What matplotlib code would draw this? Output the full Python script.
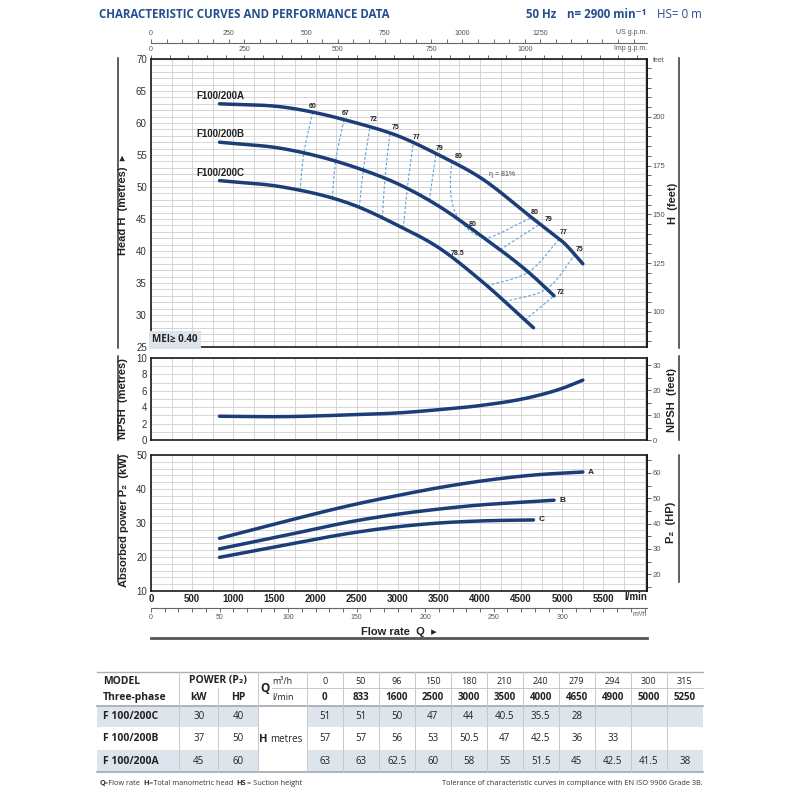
import matplotlib
matplotlib.use('Agg')
import matplotlib.pyplot as plt
import numpy as np
from matplotlib import font_manager
from matplotlib.patches import Rectangle
from matplotlib.ticker import MultipleLocator, FixedLocator

# ---------------- data ----------------
Q_M3H = [0, 50, 96, 150, 180, 210, 240, 279, 294, 300, 315]
Q_LMIN = [0, 833, 1600, 2500, 3000, 3500, 4000, 4650, 4900, 5000, 5250]
H_C = [51, 51, 50, 47, 44, 40.5, 35.5, 28]
H_B = [57, 57, 56, 53, 50.5, 47, 42.5, 36, 33]
H_A = [63, 63, 62.5, 60, 58, 55, 51.5, 45, 42.5, 41.5, 38]
MODELS = ['F 100/200C', 'F 100/200B', 'F 100/200A']
CURVE_NAMES = ['F100/200C', 'F100/200B', 'F100/200A']
POWER_KW = [30, 37, 45]
POWER_HP = [40, 50, 60]

NPSH_Q = [833, 1600, 2500, 3000, 3500, 4000, 4650, 5000, 5250]
NPSH_M = [2.9, 2.85, 3.1, 3.3, 3.7, 4.2, 5.3, 6.3, 7.3]

P_Q_A = [833, 1600, 2500, 3000, 3500, 4000, 4650, 5250]
P_A = [25.5, 30.3, 35.6, 38.1, 40.4, 42.3, 44.1, 45.0]
P_Q_B = [833, 1600, 2500, 3000, 3500, 4000, 4650, 4900]
P_B = [22.4, 26.2, 30.7, 32.6, 34.1, 35.3, 36.3, 36.7]
P_Q_C = [833, 1600, 2500, 3000, 3500, 4000, 4650]
P_C = [19.9, 23.4, 27.3, 28.9, 30.0, 30.6, 30.9]

# efficiency iso-lines: flow where each line meets curve A / B / C
ISO_LEFT = ['60', '67', '72', '75', '77', '79']
ISO_LEFT_QA = [1966, 2346, 2662, 2905, 3189, 3465]
ISO_LEFT_QB = [1860, 2245, 2581, 2845, 3116, 3383]
ISO_LEFT_QC = [1811, 2204, 2532, 2812, 3067, None]
ISO_RIGHT = ['79', '77', '75', '72']
ISO_RIGHT_QA = [4729, 4964, 5154, None]
ISO_RIGHT_QB = [4243, 4587, 4810, 4900]
ISO_RIGHT_QC = [None, 4088, 4303, 4547]
LOOP80_Q = [3657, 3640, 3655, 3700, 3780, 3870, 3970, 4090, 4230, 4430, 4628]
LOOP80_H = [None, 51.0, 48.0, 46.0, 44.4, 43.2, 42.4, 42.1, 42.7, 44.0, None]
ETA_MAX_Q = 4097
B80_Q = 3854
C785_Q = 3655

FT = 3.2808
HP_PER_KW = 1.341
IMP = 4.546
USG = 3.7854
M3H = 16.6667
XMAX = 6030

# ---------------- fonts / colours ----------------
names = {f.name for f in font_manager.fontManager.ttflist}
NARROW = 'Liberation Sans Narrow' if 'Liberation Sans Narrow' in names else 'Liberation Sans'
FN = [NARROW, 'DejaVu Sans']
FO = ['Open Sans', 'DejaVu Sans']
plt.rcParams['font.family'] = FN

NAVY = '#1b3d78'
TITLE = '#244f8e'
ISO = '#5aa2dc'
GRID = '#cfcfcf'
SHADE = '#dde4eb'
DARK = '#222222'


def spline(x, y, n=200):
    x = np.asarray(x, float)
    y = np.asarray(y, float)
    m = np.gradient(y, x)
    xs = np.linspace(x[0], x[-1], n)
    i = np.clip(np.searchsorted(x, xs, side='right') - 1, 0, len(x) - 2)
    h = x[i + 1] - x[i]
    t = (xs - x[i]) / h
    ys = ((2 * t**3 - 3 * t**2 + 1) * y[i] + (t**3 - 2 * t**2 + t) * h * m[i]
          + (-2 * t**3 + 3 * t**2) * y[i + 1] + (t**3 - t**2) * h * m[i + 1])
    return xs, ys


def path_spline(qs, hs, n=120):
    # smooth path through points, parametrised by on-screen chord length
    px = np.asarray(qs, float) * 0.0823
    py = np.asarray(hs, float) * 6.4
    d = np.r_[0, np.cumsum(np.hypot(np.diff(px), np.diff(py)))]
    _, q = spline(d, qs, n)
    _, h = spline(d, hs, n)
    return q, h


fig = plt.figure(figsize=(8, 8), dpi=100)
ax_f = fig.add_axes([0, 0, 1, 1])
ax_f.set_xlim(0, 800)
ax_f.set_ylim(800, 0)
ax_f.axis('off')

ax_h = fig.add_axes([151 / 800, 1 - 347 / 800, 496 / 800, 288 / 800])
ax_n = fig.add_axes([151 / 800, 1 - 440 / 800, 496 / 800, 82 / 800])
ax_p = fig.add_axes([151 / 800, 1 - 591 / 800, 496 / 800, 136 / 800])


def style(ax, ylim, ymaj, ymin):
    ax.set_xlim(0, XMAX)
    ax.set_ylim(*ylim)
    ax.xaxis.set_major_locator(MultipleLocator(500))
    ax.xaxis.set_minor_locator(MultipleLocator(250))
    ax.yaxis.set_major_locator(MultipleLocator(ymaj))
    ax.yaxis.set_minor_locator(MultipleLocator(ymin))
    ax.grid(True, which='both', color=GRID, lw=0.6)
    ax.set_axisbelow(True)
    ax.tick_params(which='both', length=0)
    ax.tick_params(axis='y', labelsize=7, labelcolor='#333333', pad=3)
    ax.tick_params(axis='x', labelbottom=False)
    for s in ax.spines.values():
        s.set_linewidth(1.2)
        s.set_color('#1a1a1a')


style(ax_h, (25, 70), 5, 1)
style(ax_n, (0, 10), 2, 1)
style(ax_p, (10, 50), 10, 2)
ax_p.set_xticks(np.arange(0, 5501, 500))
ax_p.tick_params(axis='x', labelbottom=True, labelsize=7, pad=2, labelcolor=DARK)
for lb in ax_p.get_xticklabels():
    lb.set_fontweight('bold')


def right_axis(ax, f, majors, minor):
    sec = ax.secondary_yaxis('right', functions=(lambda v: v * f, lambda v: v / f))
    sec.yaxis.set_major_locator(FixedLocator(majors))
    sec.yaxis.set_minor_locator(MultipleLocator(minor))
    sec.tick_params(which='both', length=3, width=0.6, color='#444444', direction='out')
    sec.tick_params(which='major', labelsize=5.5, labelcolor='#555555', pad=1)
    sec.spines['right'].set_linewidth(1.2)
    return sec


right_axis(ax_h, FT, [100, 125, 150, 175, 200], 5)
right_axis(ax_n, FT, [0, 10, 20, 30], 5)
right_axis(ax_p, HP_PER_KW, [20, 30, 40, 50, 60], 5)


def flow_axis(ax, loc, f, majors, minor):
    sec = ax.secondary_xaxis(loc, functions=(lambda v: v / f, lambda v: v * f))
    sec.xaxis.set_major_locator(FixedLocator(majors))
    sec.xaxis.set_minor_locator(MultipleLocator(minor))
    sec.tick_params(which='both', length=3, width=0.6, color='#555555', direction='out')
    sec.tick_params(which='major', labelsize=5, labelcolor='#555555', pad=1)
    for s in sec.spines.values():
        s.set_linewidth(0.8)
        s.set_color('#666666')
    return sec


flow_axis(ax_h, 'top', IMP, [0, 250, 500, 750, 1000], 50)
flow_axis(ax_h, 1 + 16 / 288, USG, [0, 250, 500, 750, 1000, 1250], 50)
flow_axis(ax_p, -17 / 136, M3H, [0, 50, 100, 150, 200, 250, 300], 10)

# ---------------- head curves ----------------
curves = {}
for name, H in zip(CURVE_NAMES, [H_C, H_B, H_A]):
    q, h = spline(Q_LMIN[1:len(H)], H[1:])
    curves[name] = (q, h)
    ax_h.plot(q, h, color=NAVY, lw=2.5, solid_capstyle='round', zorder=4)
    ax_h.annotate(name, (q[0], h[0]), xytext=(1, 3), textcoords='offset pixels',
                  ha='center', va='bottom', fontsize=7, fontweight='bold', color=DARK)


def head_at(name, q):
    cq, ch = curves[name]
    return float(np.interp(q, cq, ch))


def iso_line(qs, names_):
    pts = [(q, head_at(n, q)) for q, n in zip(qs, names_) if q is not None]
    qq, hh = path_spline([p[0] for p in pts], [p[1] for p in pts])
    ax_h.plot(qq, hh, color=ISO, lw=0.8, ls=(0, (2.5, 1.8)), zorder=3)


lab_kw = dict(textcoords='offset pixels', ha='center', va='center',
              fontsize=5, fontweight='bold', color=DARK, zorder=6)
left_off = [(0, 6), (2, 6), (4, 7), (6, 5), (3, 5), (4, 5)]
for lab, qa, qb, qc, off in zip(ISO_LEFT, ISO_LEFT_QA, ISO_LEFT_QB, ISO_LEFT_QC, left_off):
    iso_line([qc, qb, qa], CURVE_NAMES)
    ax_h.annotate(lab, (qa, head_at('F100/200A', qa)), xytext=off, **lab_kw)

right_off = [(9, 5), (4, 6), (5, 5), (7, 3)]
for lab, qa, qb, qc, off in zip(ISO_RIGHT, ISO_RIGHT_QA, ISO_RIGHT_QB, ISO_RIGHT_QC, right_off):
    iso_line([qc, qb, qa], CURVE_NAMES)
    if qa is not None:
        ax_h.annotate(lab, (qa, head_at('F100/200A', qa)), xytext=off, **lab_kw)
    else:
        ax_h.annotate(lab, (qb, head_at('F100/200B', qb)), xytext=off, **lab_kw)

loop_h = [head_at('F100/200A', q) if h is None else h for q, h in zip(LOOP80_Q, LOOP80_H)]
lq, lh = path_spline(LOOP80_Q, loop_h, 200)
ax_h.plot(lq, lh, color=ISO, lw=0.8, ls=(0, (2.5, 1.8)), zorder=3)
ax_h.annotate('80', (LOOP80_Q[0], loop_h[0]), xytext=(7, 5), **lab_kw)
ax_h.annotate('80', (LOOP80_Q[-1], loop_h[-1]), xytext=(3, 5), **lab_kw)
ax_h.annotate('80', (B80_Q, head_at('F100/200B', B80_Q)), xytext=(5, 2), **lab_kw)
ax_h.annotate('78.5', (C785_Q, head_at('F100/200C', C785_Q)), xytext=(6, 3), **lab_kw)
ax_h.annotate('η = 81%', (ETA_MAX_Q, head_at('F100/200A', ETA_MAX_Q)), xytext=(1, 8),
              textcoords='offset pixels', ha='left', va='center', fontsize=5,
              color='#444444', zorder=6)

ax_h.text(0.003, 0.006, 'MEI≥ 0.40', transform=ax_h.transAxes, ha='left', va='bottom',
          fontsize=7, fontweight='bold', family=FO, color=DARK, zorder=7,
          bbox=dict(boxstyle='square,pad=0.35', fc=SHADE, ec='none'))

# ---------------- NPSH ----------------
q, v = spline(NPSH_Q, NPSH_M)
ax_n.plot(q, v, color=NAVY, lw=2.5, solid_capstyle='round', zorder=4)

# ---------------- power ----------------
for lab, qs, ps in [('A', P_Q_A, P_A), ('B', P_Q_B, P_B), ('C', P_Q_C, P_C)]:
    q, v = spline(qs, ps)
    ax_p.plot(q, v, color=NAVY, lw=2.5, solid_capstyle='round', zorder=4)
    ax_p.annotate(lab, (q[-1], v[-1]), xytext=(5, 0), textcoords='offset pixels',
                  ha='left', va='center', fontsize=6, fontweight='bold', color=DARK)

# ---------------- frame texts (pixel coordinates) ----------------
ax_f.text(99, 15, 'CHARACTERISTIC CURVES AND PERFORMANCE DATA', fontsize=8.3,
          fontweight='bold', color=TITLE, family=FO, va='center')
ax_f.text(526, 15, '50 Hz', fontsize=8.3, fontweight='bold', color=TITLE, family=FO, va='center')
ax_f.text(567, 15, 'n= 2900 min⁻¹', fontsize=8.3, fontweight='bold', color=TITLE,
          family=FO, va='center')
ax_f.text(657, 15, 'HS= 0 m', fontsize=8.3, color=TITLE, family=FO, va='center')

ax_f.text(647, 32, 'US g.p.m.', fontsize=5, color='#555555', ha='right', va='center')
ax_f.text(647, 49, 'Imp g.p.m.', fontsize=5, color='#555555', ha='right', va='center')
ax_f.text(653, 61, 'feet', fontsize=5, color='#555555', ha='left', va='center')
ax_f.text(647, 597, 'l/min', fontsize=7, fontweight='bold', color=DARK, ha='right', va='center')
ax_f.text(647, 615, 'm³/h', fontsize=5, color='#555555', ha='right', va='center')
ax_f.text(399, 632, 'Flow rate  Q  ▸', fontsize=8, fontweight='bold', color=DARK,
          ha='center', va='center')
ax_f.plot([151, 647], [638, 638], color='#555555', lw=2)

ylabs = [(123, 205, 'Head H  (metres)  ▸'), (123, 399, 'NPSH  (metres)'),
         (124, 520, 'Absorbed power P₂  (kW)'), (673, 203, 'H  (feet)'),
         (672, 400, 'NPSH  (feet)'), (671, 522, 'P₂  (HP)')]
for x, y, s in ylabs:
    ax_f.text(x, y, s, rotation=90, ha='center', va='center', fontsize=8,
              fontweight='bold', color=DARK)
for x in (118, 679):
    for y0, y1 in [(58, 348), (356, 440), (455, 582)]:
        ax_f.plot([x, x], [y0, y1], color='#333333', lw=1.1)

# ---------------- table ----------------
TL, TR = 97.3, 702.7
X_MOD, X_KW, X_PW, X_Q = 179.3, 218.3, 258.3, 306.7
COLW = 36.0
ROWS = [(705.7, 727.3), (727.3, 750.0), (750.0, 772.3)]
for i in (0, 2):
    r0, r1 = ROWS[i]
    ax_f.add_patch(Rectangle((TL, r0), X_PW - TL, r1 - r0, fc=SHADE, ec='none'))
    ax_f.add_patch(Rectangle((X_Q, r0), TR - X_Q, r1 - r0, fc=SHADE, ec='none'))

lc = '#c4c9ce'
ax_f.plot([TL, TR], [672.3, 672.3], color='#a9aeb3', lw=1)
ax_f.plot([272, TR], [688.3, 688.3], color=lc, lw=0.7)
ax_f.plot([TL, TR], [705.7, 705.7], color='#a9aeb3', lw=1.3)
ax_f.plot([TL, TR], [772.3, 772.3], color='#a9aeb3', lw=1.3)
for x in [X_MOD, X_PW, X_Q] + [X_Q + COLW * k for k in range(1, 11)]:
    ax_f.plot([x, x], [672.3, 772.3], color=lc, lw=0.7)
ax_f.plot([X_KW, X_KW], [688.3, 772.3], color=lc, lw=0.7)

tk = dict(family=FO, va='center', color=DARK)
ax_f.text(102.7, 681, 'MODEL', fontsize=7.5, fontweight='bold', ha='left', **tk)
ax_f.text(102.7, 697.3, 'Three-phase', fontsize=7.5, fontweight='bold', ha='left', **tk)
ax_f.text(X_KW, 681, 'POWER (P₂)', fontsize=7.5, fontweight='bold', ha='center', **tk)
ax_f.text((X_MOD + X_KW) / 2, 697.3, 'kW', fontsize=7.5, fontweight='bold', ha='center', **tk)
ax_f.text((X_KW + X_PW) / 2, 697.3, 'HP', fontsize=7.5, fontweight='bold', ha='center', **tk)
ax_f.text(265, 689, 'Q', fontsize=8.5, fontweight='bold', ha='center', **tk)
ax_f.text(272.5, 681, 'm³/h', fontsize=6.5, ha='left', **tk)
ax_f.text(272.5, 697.3, 'l/min', fontsize=6.5, ha='left', **tk)
ax_f.text(263.5, 739, 'H', fontsize=8, fontweight='bold', ha='center', **tk)
ax_f.text(270.5, 739, 'metres', fontsize=7, ha='left', **tk)

for k, (m3, lm) in enumerate(zip(Q_M3H, Q_LMIN)):
    cx = X_Q + COLW * (k + 0.5)
    ax_f.text(cx, 681, str(m3), fontsize=6.5, ha='center', **tk)
    ax_f.text(cx, 697.3, str(lm), fontsize=7, fontweight='bold', ha='center', **tk)

for (r0, r1), model, kw, hp, H in zip(ROWS, MODELS, POWER_KW, POWER_HP, [H_C, H_B, H_A]):
    cy = (r0 + r1) / 2
    ax_f.text(102.7, cy, model, fontsize=7.5, fontweight='bold', ha='left', **tk)
    ax_f.text((X_MOD + X_KW) / 2, cy, str(kw), fontsize=7, ha='center', **tk)
    ax_f.text((X_KW + X_PW) / 2, cy, str(hp), fontsize=7, ha='center', **tk)
    for k, h in enumerate(H):
        ax_f.text(X_Q + COLW * (k + 0.5), cy, f'{h:g}', fontsize=7, ha='center', **tk)

fk = dict(family=FO, va='center', color='#333333', fontsize=5.3)
for x, s, w in [(99.3, 'Q', 'bold'), (104, '=Flow rate', 'normal'), (143.3, 'H', 'bold'),
                (148.7, '=Total manometric head', 'normal'), (236.7, 'HS', 'bold'),
                (246.7, '= Suction height', 'normal')]:
    ax_f.text(x, 783.5, s, fontweight=w, ha='left', **fk)
ax_f.text(TR, 783.5, 'Tolerance of characteristic curves in compliance with EN ISO 9906 Grade 3B.',
          ha='right', **fk)

fig.savefig('out.png', dpi=100)
